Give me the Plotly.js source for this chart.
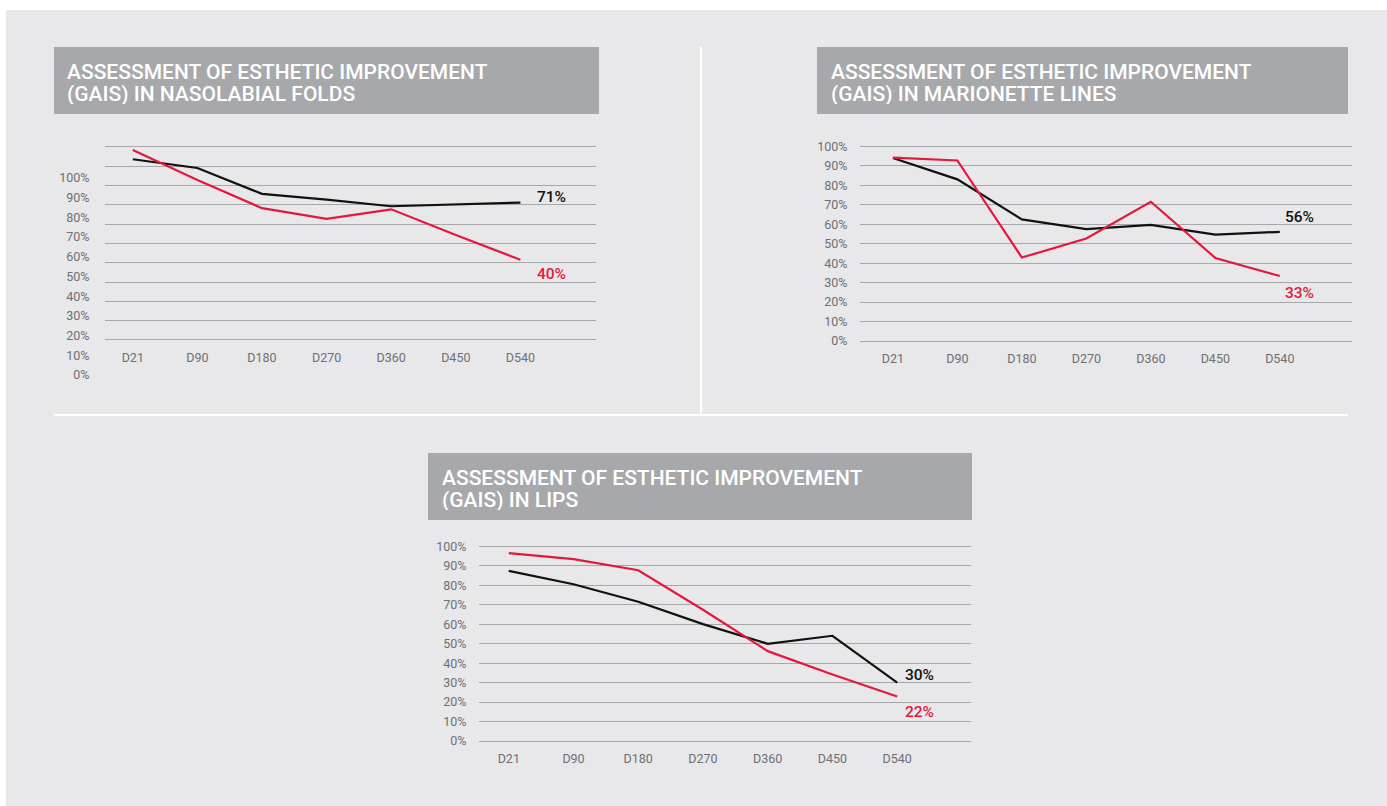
<!DOCTYPE html>
<html>
<head>
<meta charset="utf-8">
<script src="https://cdn.plot.ly/plotly-3.0.1.min.js"></script>
<style>
  html, body { margin: 0; padding: 0; background: #ffffff; }
  #chart { width: 1387px; height: 806px; }
</style>
</head>
<body>
<div id="chart"></div>
<script>
// ---------------- DATA ----------------
const categories = ['D21', 'D90', 'D180', 'D270', 'D360', 'D450', 'D540'];

const nasolabialBlack = [93.5, 89.0, 75.6, 72.6, 69.2, 70.0, 71.1];
const nasolabialRed   = [98.3, 82.8, 68.2, 62.7, 67.6, 54.3, 41.5];

const marionetteBlack = [94.1, 83.1, 62.5, 57.5, 59.7, 54.7, 56.1];
const marionetteRed   = [94.3, 92.8, 42.9, 52.7, 71.6, 42.7, 33.4];

const lipsBlack = [87.5, 80.6, 71.6, 60.1, 50.0, 54.1, 30.0];
const lipsRed   = [96.6, 93.5, 87.8, 67.5, 46.2, 34.2, 22.9];

const nasolabialEndLabels = ['71%', '40%'];
const marionetteEndLabels = ['56%', '33%'];
const lipsEndLabels       = ['30%', '22%'];

const yTickValues = [0, 10, 20, 30, 40, 50, 60, 70, 80, 90, 100];
const yTickLabels = ['0%', '10%', '20%', '30%', '40%', '50%', '60%', '70%', '80%', '90%', '100%'];

const titleLine1 = 'ASSESSMENT OF ESTHETIC IMPROVEMENT';
const nasolabialTitle2 = '(GAIS) IN NASOLABIAL FOLDS';
const marionetteTitle2 = '(GAIS) IN MARIONETTE LINES';
const lipsTitle2 = '(GAIS) IN LIPS';

// ---------------- STYLE ----------------
const W = 1387, H = 806;
const px = v => v / W;
const py = v => 1 - v / H;

const BLACK = '#111111';
const RED = '#e4173e';
const GRID = '#a6a7ab';
const TICK = '#6d6f74';
const PANEL = '#e8e8ea';
const TITLEBOX = '#a7a8ac';
const FONT = 'Roboto, "Open Sans", sans-serif';
const PAD = 1; // range padding (in %) so the 0% and 100% grid lines are drawn

function lineTrace(y, color, xa, ya) {
  return {
    type: 'scatter', mode: 'lines', x: categories, y: y,
    xaxis: xa, yaxis: ya, line: { color: color, width: 2.2 },
    hoverinfo: 'skip', showlegend: false
  };
}

const data = [
  lineTrace(nasolabialBlack, BLACK, 'x', 'y'),
  lineTrace(nasolabialRed, RED, 'x', 'y'),
  lineTrace(marionetteBlack, BLACK, 'x2', 'y2'),
  lineTrace(marionetteRed, RED, 'x2', 'y2'),
  lineTrace(lipsBlack, BLACK, 'x3', 'y3'),
  lineTrace(lipsRed, RED, 'x3', 'y3'),
  // empty carrier so the offset label axis of the first chart is drawn
  { type: 'scatter', mode: 'lines', x: categories, y: categories.map(() => null),
    xaxis: 'x', yaxis: 'y4', hoverinfo: 'skip', showlegend: false }
];

function xAxis(domain, range, anchor) {
  return {
    domain: domain, range: range, anchor: anchor, type: 'category',
    showgrid: false, zeroline: false, showline: false,
    ticks: 'outside', ticklen: 4, tickcolor: 'rgba(0,0,0,0)',
    tickfont: { family: FONT, size: 12.5, color: TICK },
    fixedrange: true
  };
}
// bottomPx / topPx: pixel rows of the 0% and 100% grid lines
function yAxis(bottomPx, topPx, anchor, showLabels) {
  const ppu = (bottomPx - topPx) / 100;
  return {
    domain: [py(bottomPx + PAD * ppu), py(topPx - PAD * ppu)],
    range: [-PAD, 100 + PAD], anchor: anchor,
    tickmode: 'array', tickvals: yTickValues, ticktext: yTickLabels,
    showticklabels: showLabels,
    showgrid: true, gridcolor: GRID, gridwidth: 1,
    zeroline: false, showline: false,
    ticks: 'outside', ticklen: 9, tickcolor: 'rgba(0,0,0,0)',
    tickfont: { family: FONT, size: 12.5, color: TICK },
    fixedrange: true
  };
}

const yLabelsOnly = yAxis(375, 178, 'x', true);
yLabelsOnly.showgrid = false;
yLabelsOnly.ticklen = 12;

function endLabel(xa, ya, yVal, text, color, xshift, yshift) {
  return {
    xref: xa, yref: ya, x: categories[categories.length - 1], y: yVal,
    text: text, showarrow: false, xanchor: 'left', yanchor: 'middle',
    xshift: xshift, yshift: yshift,
    font: { family: FONT, size: 15.5, color: color, weight: 500 }
  };
}
function titleText(x, y, text) {
  return {
    xref: 'paper', yref: 'paper', x: px(x), y: py(y), text: text,
    showarrow: false, xanchor: 'left', yanchor: 'middle',
    height: 21, valign: 'middle', borderpad: 0,
    font: { family: FONT, size: 21, color: '#ffffff', weight: 500 }
  };
}

const layout = {
  width: W, height: H,
  margin: { l: 0, r: 0, t: 0, b: 0 },
  paper_bgcolor: '#ffffff',
  plot_bgcolor: 'rgba(0,0,0,0)',
  showlegend: false,
  xaxis:  xAxis([px(105), px(596)], [-0.43, 7.17], 'y'),
  yaxis:  yAxis(340, 146.7, 'x', false),
  yaxis4: yLabelsOnly,
  xaxis2: xAxis([px(860), px(1352)], [-0.51, 7.12], 'y2'),
  yaxis2: yAxis(341, 146.5, 'x2', true),
  xaxis3: xAxis([px(479), px(971)], [-0.46, 7.14], 'y3'),
  yaxis3: yAxis(741, 546.5, 'x3', true),
  shapes: [
    { type: 'rect', xref: 'paper', yref: 'paper', x0: px(6), x1: px(1387), y0: py(806), y1: py(10),
      fillcolor: PANEL, line: { width: 0 }, layer: 'below' },
    { type: 'rect', xref: 'paper', yref: 'paper', x0: px(54), x1: px(599), y0: py(114), y1: py(47),
      fillcolor: TITLEBOX, line: { width: 0 }, layer: 'below' },
    { type: 'rect', xref: 'paper', yref: 'paper', x0: px(817), x1: px(1348), y0: py(114), y1: py(47),
      fillcolor: TITLEBOX, line: { width: 0 }, layer: 'below' },
    { type: 'rect', xref: 'paper', yref: 'paper', x0: px(428), x1: px(972), y0: py(520), y1: py(453),
      fillcolor: TITLEBOX, line: { width: 0 }, layer: 'below' },
    { type: 'line', xref: 'paper', yref: 'paper', x0: px(701), x1: px(701), y0: py(413), y1: py(47),
      line: { color: '#ffffff', width: 2 }, layer: 'below' },
    { type: 'line', xref: 'paper', yref: 'paper', x0: px(54), x1: px(1348), y0: py(415), y1: py(415),
      line: { color: '#ffffff', width: 2 }, layer: 'below' }
  ],
  annotations: [
    titleText(66, 71, titleLine1),
    titleText(66, 93, nasolabialTitle2),
    titleText(830, 71, titleLine1),
    titleText(830, 93, marionetteTitle2),
    titleText(441, 477, titleLine1),
    titleText(441, 499, lipsTitle2),
    endLabel('x', 'y', nasolabialBlack[6], nasolabialEndLabels[0], BLACK, 15, 6),
    endLabel('x', 'y', nasolabialRed[6], nasolabialEndLabels[1], RED, 15, -14),
    endLabel('x2', 'y2', marionetteBlack[6], marionetteEndLabels[0], BLACK, 3, 15),
    endLabel('x2', 'y2', marionetteRed[6], marionetteEndLabels[1], RED, 3, -17),
    endLabel('x3', 'y3', lipsBlack[6], lipsEndLabels[0], BLACK, 6, 8),
    endLabel('x3', 'y3', lipsRed[6], lipsEndLabels[1], RED, 6, -16)
  ]
};

Plotly.newPlot('chart', data, layout, { displayModeBar: false, staticPlot: true });
</script>
</body>
</html>
